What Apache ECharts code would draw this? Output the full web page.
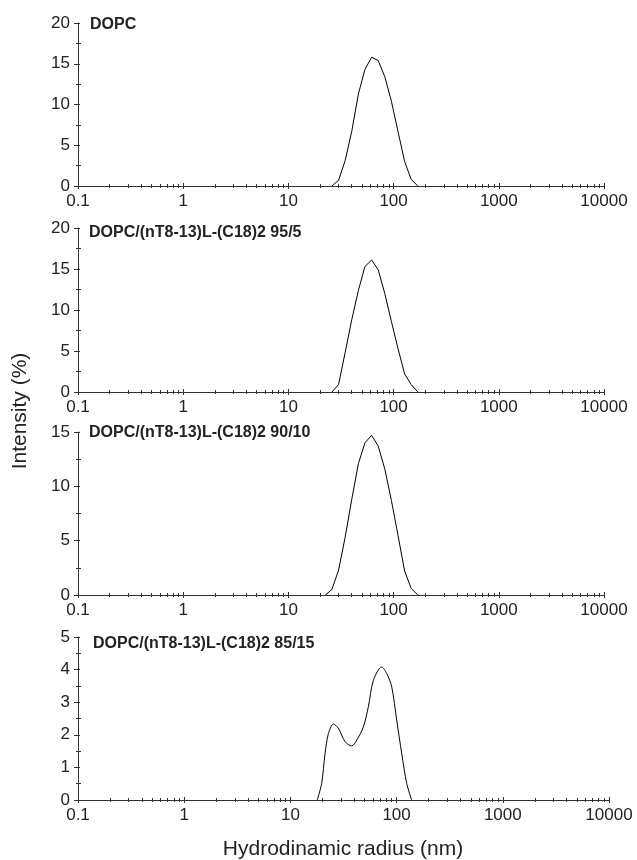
<!DOCTYPE html>
<html><head><meta charset="utf-8">
<script src="https://cdn.jsdelivr.net/npm/echarts@6/dist/echarts.min.js"></script>
<style>html,body{margin:0;padding:0;background:#fff}#c{width:637px;height:860px}</style>
</head><body><div id="c"></div>
<script>
// ---- data ----
const xTickLabels = ['0.1', '1', '10', '100', '1000', '10000'];
const panelTitles = ['DOPC', 'DOPC/(nT8-13)L-(C18)2 95/5', 'DOPC/(nT8-13)L-(C18)2 90/10', 'DOPC/(nT8-13)L-(C18)2 85/15'];
const yMaxes = [20, 20, 15, 5];
const yIntervals = [5, 5, 5, 1];

const radius1 = [25.9, 30.0, 34.6, 40.0, 46.3, 53.4, 61.8, 71.4, 82.5, 95.3, 110.1, 127.3, 147.1, 170.0];
const intensity1 = [0, 0.7, 3.1, 6.7, 11.3, 14.3, 15.8, 15.4, 13.4, 10.4, 6.7, 3.0, 0.8, 0];

const radius2 = [25.9, 30.0, 34.6, 40.0, 46.3, 53.4, 61.8, 71.4, 82.5, 95.3, 110.1, 127.3, 147.1, 170.0];
const intensity2 = [0, 0.9, 4.8, 8.8, 12.4, 15.3, 16.1, 14.9, 12.0, 8.6, 5.3, 2.2, 0.9, 0];

const radius3 = [22.4, 25.9, 30.0, 34.6, 40.0, 46.3, 53.4, 61.8, 71.4, 82.5, 95.3, 110.1, 127.3, 147.1, 170.0];
const intensity3 = [0, 0.5, 2.3, 5.3, 8.8, 12.1, 14.0, 14.7, 13.7, 11.6, 8.7, 5.5, 2.2, 0.6, 0];

const radius4 = [17.9, 19.7, 21.2, 22.8, 25.4, 28.3, 32.7, 37.8, 42.2, 48.6, 54.2, 60.4, 72.4, 80.7, 90.0, 100.2, 111.7, 124.5, 138.7];
const intensity4 = [0, 0.51, 1.43, 2.04, 2.33, 2.2, 1.79, 1.66, 1.84, 2.24, 2.86, 3.67, 4.08, 3.88, 3.47, 2.45, 1.43, 0.51, 0];

const radii = [radius1, radius2, radius3, radius4];
const intensities = [intensity1, intensity2, intensity3, intensity4];

// ---- layout ----
const FONT = '"Liberation Sans", Arial, Helvetica, sans-serif';
const grids = [
  {left: 78, top: 23, width: 526, height: 163},
  {left: 78, top: 228, width: 526, height: 164},
  {left: 78, top: 432, width: 526, height: 163},
  {left: 78, top: 637, width: 531, height: 163}
];
const titlePos = [[90, 17], [89, 225], [89, 425], [93, 636]];
const axisColor = '#333';

const xAxes = [], yAxes = [], series = [], titles = [];
for (let i = 0; i < 4; i++) {
  const xBase = {type: 'log', logBase: 10, gridIndex: i, min: 0.1, max: 10000, position: 'bottom', splitLine: {show: false}};
  // main x axis: line, labels, outward ticks
  xAxes.push(Object.assign({}, xBase, {
    axisLine: {lineStyle: {color: axisColor, width: 1}},
    axisTick: {show: true, inside: false, length: 3, lineStyle: {color: axisColor}},
    minorTick: {show: true, splitNumber: 9, length: 2, lineStyle: {color: axisColor}},
    axisLabel: {color: '#222', fontSize: 17, fontFamily: FONT, margin: 7,
      formatter: v => { const s = String(+(+v).toPrecision(6)); return xTickLabels.indexOf(s) >= 0 ? s : ''; }}
  }));
  // companion x axis: inward ticks only
  xAxes.push(Object.assign({}, xBase, {
    axisLine: {show: false},
    axisTick: {show: true, inside: true, length: 3, lineStyle: {color: axisColor}},
    minorTick: {show: true, splitNumber: 9, length: 2, lineStyle: {color: axisColor}},
    axisLabel: {show: false}
  }));
  const yBase = {type: 'value', gridIndex: i, min: 0, max: yMaxes[i], interval: yIntervals[i], position: 'left', splitLine: {show: false}};
  yAxes.push(Object.assign({}, yBase, {
    axisLine: {show: true, lineStyle: {color: axisColor, width: 1}},
    axisTick: {show: true, inside: false, length: 4, lineStyle: {color: axisColor}},
    minorTick: {show: true, splitNumber: 2, length: 2, lineStyle: {color: axisColor}},
    axisLabel: {color: '#222', fontSize: 17, fontFamily: FONT, margin: 8}
  }));
  yAxes.push(Object.assign({}, yBase, {
    axisLine: {show: false},
    axisTick: {show: true, inside: true, length: 2, lineStyle: {color: axisColor}},
    minorTick: {show: true, splitNumber: 2, length: 3, lineStyle: {color: axisColor}},
    axisLabel: {show: false}
  }));
  series.push({
    type: 'line', xAxisIndex: 2 * i, yAxisIndex: 2 * i,
    data: radii[i].map((r, k) => [r, intensities[i][k]]),
    showSymbol: false, symbol: 'none',
    smooth: i === 3 ? 0.3 : false,
    lineStyle: {color: '#000', width: 1},
    silent: true, animation: false
  });
  titles.push({
    text: panelTitles[i], left: titlePos[i][0], top: titlePos[i][1], padding: 0,
    textStyle: {fontSize: 16, fontWeight: 'bold', color: '#222', fontFamily: FONT}
  });
}

const chart = echarts.init(document.getElementById('c'), null, {renderer: 'canvas'});
chart.setOption({
  backgroundColor: '#fff',
  animation: false,
  title: titles,
  grid: grids,
  xAxis: xAxes,
  yAxis: yAxes,
  series: series,
  graphic: [
    {type: 'text', x: 20, y: 411, rotation: Math.PI / 2,
     style: {text: 'Intensity (%)', fontSize: 21, fontFamily: FONT, fill: '#222', align: 'center', verticalAlign: 'middle'}},
    {type: 'text', x: 343, y: 849,
     style: {text: 'Hydrodinamic radius (nm)', fontSize: 21, fontFamily: FONT, fill: '#222', align: 'center', verticalAlign: 'middle'}}
  ]
});
</script></body></html>
